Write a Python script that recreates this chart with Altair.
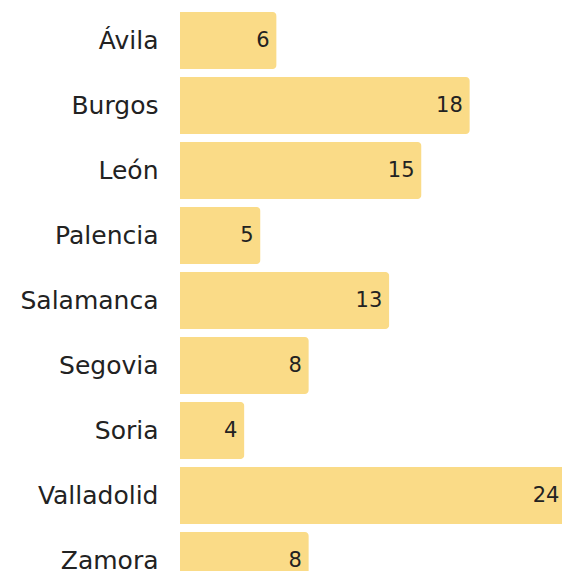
import altair as alt
import pandas as pd

provinces = ["Ávila", "Burgos", "León", "Palencia", "Salamanca", "Segovia", "Soria", "Valladolid", "Zamora"]
values = [6, 18, 15, 5, 13, 8, 4, 24, 8]

df = pd.DataFrame({"provincia": provinces, "valor": values})

FONT = "DejaVu Sans"
PLOT_W = 382

y_enc = alt.Y(
    "provincia:N",
    sort=provinces,
    scale=alt.Scale(range=[0, 585], paddingInner=0.123, paddingOuter=0.0615),
    axis=alt.Axis(
        title=None, domain=False, ticks=False, labelFont=FONT, labelFontSize=25,
        labelColor="#222222", labelPadding=22, labelLimit=300,
    ),
)
x_enc = alt.X(
    "valor:Q",
    scale=alt.Scale(domain=[0, PLOT_W / 16.1], nice=False, zero=True),
    axis=None,
)

bars = alt.Chart(df).mark_bar(color="#FADB87", cornerRadiusEnd=4).encode(y=y_enc, x=x_enc)
labels = alt.Chart(df).mark_text(
    align="right", baseline="middle", dx=-7, font=FONT, fontSize=21, color="#222222"
).encode(y=y_enc, x=x_enc, text="valor:Q")

chart = (bars + labels).properties(
    width=PLOT_W, height=563,
    autosize=alt.AutoSizeParams(type="none"),
    padding={"left": 172, "top": 0, "right": 0, "bottom": 0},
).configure_view(stroke=None)

chart.save("out.html", embed_options={"renderer": "svg", "actions": False})
